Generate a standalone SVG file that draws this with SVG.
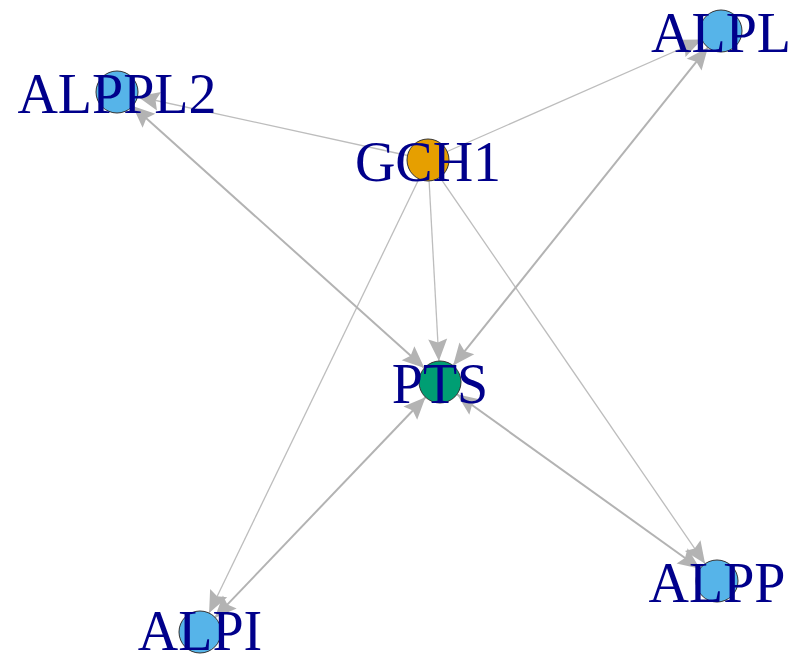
<svg xmlns="http://www.w3.org/2000/svg" width="798" height="662" viewBox="0 0 798 662">
<style>
.thin{stroke:#bdbdbd;stroke-width:1.3;fill:none}
.thick{stroke:#b3b3b3;stroke-width:2;fill:none}
.node{stroke:#333;stroke-width:1}
.lbl{font-family:"Liberation Serif","Times New Roman",serif;font-size:56px;fill:#00008b;text-anchor:middle}
</style>
<defs>
<marker id="arr" markerUnits="userSpaceOnUse" markerWidth="30" markerHeight="30" refX="0" refY="0" orient="auto-start-reverse" overflow="visible">
<path d="M0,0 L-22,-9.5 L-18.5,0 L-22,9.5 Z" fill="#b3b3b3"/>
</marker>
</defs>
<rect width="798" height="662" fill="#fff"/>
<g id="edges">
<line class="thin" x1="407.5" y1="155.5" x2="137.5" y2="96.5" marker-end="url(#arr)"/>
<line class="thin" x1="447.2" y1="151.5" x2="701.8" y2="39.5" marker-end="url(#arr)"/>
<line class="thin" x1="429.1" y1="181" x2="438.9" y2="361" marker-end="url(#arr)"/>
<line class="thin" x1="418.9" y1="179" x2="209.1" y2="613" marker-end="url(#arr)"/>
<line class="thin" x1="439.9" y1="177.3" x2="705.1" y2="563.7" marker-end="url(#arr)"/>
<line class="thick" x1="424.4" y1="368" x2="132.6" y2="106" marker-start="url(#arr)" marker-end="url(#arr)"/>
<line class="thick" x1="453.1" y1="365.6" x2="707.9" y2="47.4" marker-start="url(#arr)" marker-end="url(#arr)"/>
<line class="thick" x1="425.5" y1="397.2" x2="214.6" y2="617.9" marker-start="url(#arr)" marker-end="url(#arr)"/>
<line class="thick" x1="457" y1="394.3" x2="700" y2="568.7" marker-start="url(#arr)" marker-end="url(#arr)"/>
</g>
<g id="GCH1"><circle class="node" cx="428" cy="160" r="21" fill="#e69f00"/><text class="lbl" x="428" y="181">GCH1</text></g>
<g id="ALPL"><circle class="node" cx="721" cy="31" r="21" fill="#56b4e9"/><text class="lbl" x="721" y="52">ALPL</text></g>
<g id="ALPPL2"><circle class="node" cx="117" cy="92" r="21" fill="#56b4e9"/><text class="lbl" x="117" y="113">ALPPL2</text></g>
<g id="PTS"><circle class="node" cx="440" cy="382" r="21" fill="#009e73"/><text class="lbl" x="440" y="403">PTS</text></g>
<g id="ALPP"><circle class="node" cx="717" cy="581" r="21" fill="#56b4e9"/><text class="lbl" x="717" y="602">ALPP</text></g>
<g id="ALPI"><circle class="node" cx="200" cy="632" r="21" fill="#56b4e9"/><text class="lbl" x="200" y="650">ALPI</text></g>
</svg>
